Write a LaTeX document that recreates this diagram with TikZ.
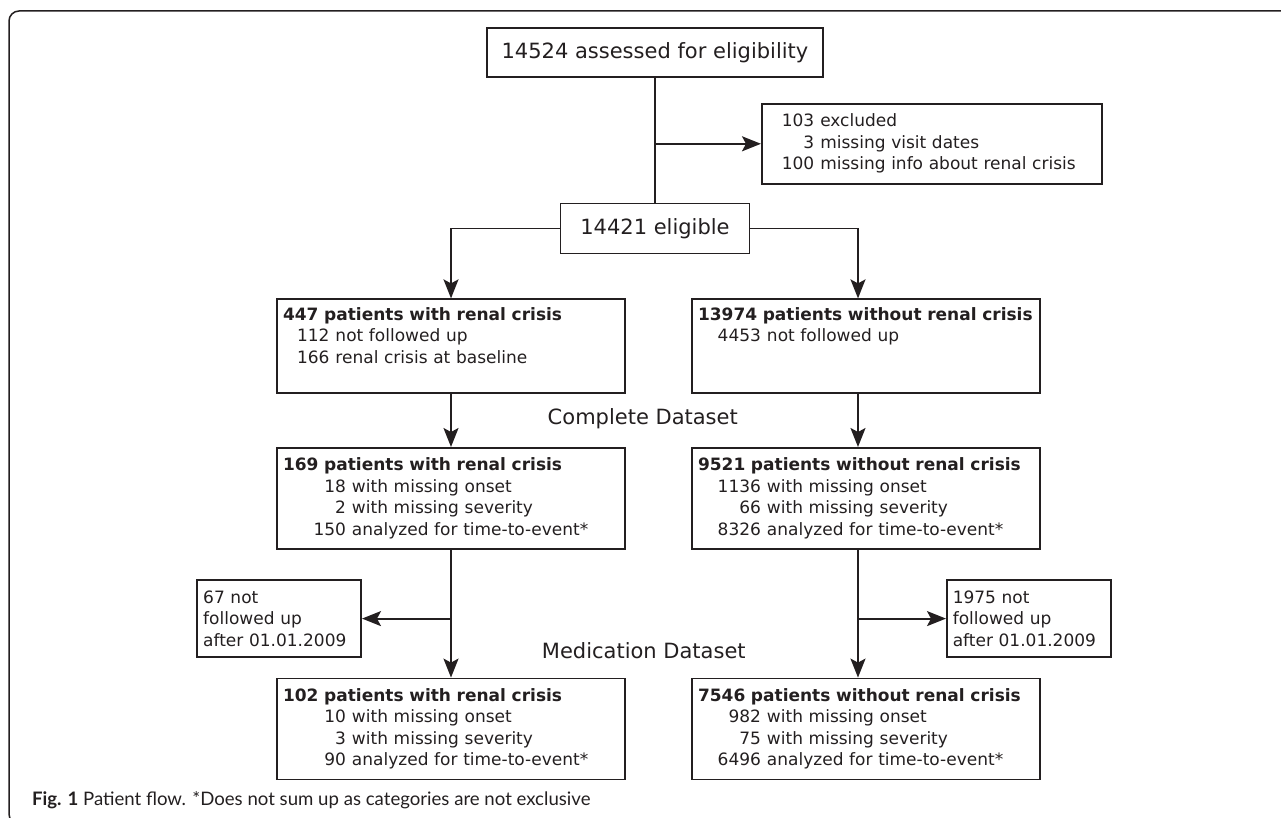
\documentclass[tikz,border=0pt]{standalone}
\usepackage{fontspec}
\setmainfont{DejaVu Sans}
\newfontfamily\capfont{Lato}
\usetikzlibrary{positioning}
\usetikzlibrary{arrows.meta}
\definecolor{linecol}{RGB}{35,31,32}

% number columns inside the boxes
\newcommand{\nrow}[2]{\makebox[31.5pt][r]{#1}\hspace{3pt}#2}
\newcommand{\srow}[2]{\makebox[23.25pt][r]{#1}\hspace{3pt}#2}

\tikzset{
  flowbox/.style={draw=linecol, line width=0.8pt, inner xsep=3pt, inner ysep=2pt,
    text=linecol, font=\fontsize{8.5pt}{10.75pt}\selectfont},
  bigbox/.style={flowbox, font=\fontsize{10.5pt}{12pt}\selectfont},
  listbox/.style={flowbox, text width=168pt, align=left},
  sidebox/.style={flowbox, text width=76pt, align=left, minimum height=38.5pt},
  conn/.style={draw=linecol, line width=0.9pt},
  arr/.style={conn, -{Stealth[length=9.5pt, width=7.5pt, inset=2pt]}},
  lbl/.style={text=linecol, font=\fontsize{10.5pt}{12pt}\selectfont},
}

\begin{document}
\begin{tikzpicture}[x=0.5pt, y=-0.5pt]

  \useasboundingbox (0,0) rectangle (1281,818);

  % Frame
  \draw[linecol, line width=0.75pt, rounded corners=5pt]
    (1300,11) -- (9,11) -- (9,824) -- (200,824);

  % Define nodes
  \node[bigbox, minimum width=168pt, minimum height=24.5pt] (assess) at (655,52.5)
    {14524 assessed for eligibility};
  \node[bigbox, minimum width=94.5pt, minimum height=25pt, below=62.5pt of assess] (elig)
    {14421 eligible};
  \coordinate[below=33pt of assess] (split);
  \node[flowbox, text width=164pt, align=left, minimum height=40pt, right=53pt of split] (excl)
    {\srow{103}{excluded}\\ \srow{3}{missing visit dates}\\ \srow{100}{missing info about renal crisis}};

  \node[listbox, minimum height=47pt, below=22pt of elig, xshift=-102pt] (crisA)
    {\textbf{447 patients with renal crisis}\\ \srow{112}{not followed up}\\
     \srow{166}{renal crisis at baseline}\\ ~};
  \node[listbox, minimum height=47pt, below=22pt of elig, xshift=105.5pt] (nocrisA)
    {\textbf{13974 patients without renal crisis}\\ \nrow{4453}{not followed up}\\ ~\\ ~};

  \node[listbox, minimum height=50.5pt, below=26.5pt of crisA] (crisB)
    {\textbf{169 patients with renal crisis}\\ \nrow{18}{with missing onset}\\
     \nrow{2}{with missing severity}\\ \nrow{150}{analyzed for time-to-event*}};
  \node[listbox, minimum height=50.5pt, below=26.5pt of nocrisA] (nocrisB)
    {\textbf{9521 patients without renal crisis}\\ \nrow{1136}{with missing onset}\\
     \nrow{66}{with missing severity}\\ \nrow{8326}{analyzed for time-to-event*}};

  \node[listbox, minimum height=50.5pt, below=64pt of crisB] (crisC)
    {\textbf{102 patients with renal crisis}\\ \nrow{10}{with missing onset}\\
     \nrow{3}{with missing severity}\\ \nrow{90}{analyzed for time-to-event*}};
  \node[listbox, minimum height=50.5pt, below=64pt of nocrisB] (nocrisC)
    {\textbf{7546 patients without renal crisis}\\ \nrow{982}{with missing onset}\\
     \nrow{75}{with missing severity}\\ \nrow{6496}{analyzed for time-to-event*}};

  \coordinate[below=34.5pt of crisB] (dropL);
  \coordinate[below=34.5pt of nocrisB, xshift=-4pt] (dropR);
  \node[sidebox, left=44.5pt of dropL] (lostA) {67 not\\ followed up\\ after 01.01.2009};
  \node[sidebox, right=44pt of dropR] (lostB) {1975 not\\ followed up\\ after 01.01.2009};

  \node[lbl] (complete) at ([xshift=8.5pt, yshift=-12.5pt]crisA.south east) {Complete Dataset};
  \node[lbl] (medication) at ([xshift=9pt, yshift=13.5pt]crisC.north east) {Medication Dataset};

  % Connect the nodes
  \draw[conn] (assess) -- (elig);
  \draw[arr] (split) -- (split -| excl.west);
  \draw[arr] (elig.west) -| (crisA);
  \draw[arr] (elig.east) -| ([xshift=-4pt]nocrisA.north);
  \draw[arr] (crisA) -- (crisB);
  \draw[arr] ([xshift=-4pt]nocrisA.south) -- ([xshift=-4pt]nocrisB.north);
  \draw[arr] (crisB) -- (crisC);
  \draw[arr] ([xshift=-4pt]nocrisB.south) -- ([xshift=-4pt]nocrisC.north);
  \draw[arr] (dropL) -- (lostA);
  \draw[arr] (dropR) -- (lostB);

  % Caption
  \node[anchor=base west, text=linecol, font=\capfont\fontsize{9.3pt}{11pt}\selectfont] (caption) at (25,805)
    {\textbf{Fig. 1} Patient flow. *Does not sum up as categories are not exclusive};

\end{tikzpicture}
\end{document}
